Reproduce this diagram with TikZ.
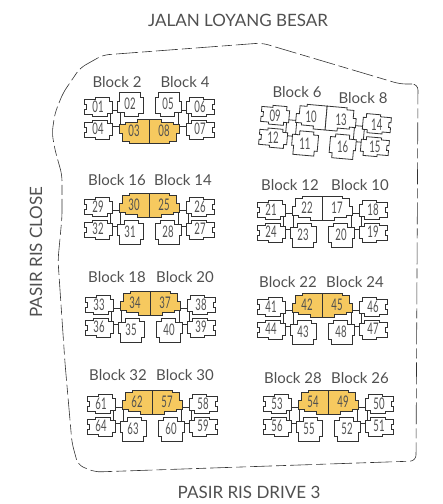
\documentclass[tikz,border=0pt]{standalone}
\usepackage{fontspec}
\setmainfont{Lato}
\newfontfamily\unitfont[FakeStretch=0.6]{Lato}
\definecolor{unityellow}{RGB}{246,201,95}
\definecolor{inkgray}{RGB}{50,50,50}
\definecolor{textgray}{RGB}{80,80,80}
\tikzset{
  unit/.style={draw=inkgray, line width=.8pt},
  boundary/.style={draw=inkgray, line width=.6pt, dash pattern=on 22pt off 4pt on 10pt off 4pt},
  unitno/.style={font=\unitfont\fontsize{16}{16}\selectfont, text=textgray, inner sep=0pt},
  blocklbl/.style={font=\fontsize{15}{15}\selectfont, text=textgray, inner sep=0pt},
  road/.style={font=\fontsize{17}{17}\selectfont, text=textgray, inner sep=0pt},
  pics/outerunit/.style={code={\path[unit,pic actions] (-14,-8) -- (-3,-8) -- (-3,-10) -- (11,-10) -- (11,-6) -- (14,-6) -- (14,6) -- (9,6) -- (9,9) -- (-6,9) -- (-6,7) -- (-14,7) -- (-14,2) -- (-12,2) -- (-12,-3) -- (-14,-3) -- cycle;}},
  pics/innerunit/.style={code={\path[unit,pic actions] (-12,-10) -- (-5,-10) -- (-5,-12) -- (15,-12) -- (15,12) -- (3,12) -- (3,9) -- (-9,9) -- (-9,7) -- (-15,7) -- (-15,-2) -- (-12,-2) -- cycle;}},
  pics/lowerunit/.style={code={\path[unit,pic actions] (-13,-8) -- (-6,-8) -- (-6,-12) -- (8,-12) -- (8,-9) -- (13,-9) -- (13,7) -- (10,7) -- (10,12) -- (-11,12) -- (-11,3) -- (-13,3) -- cycle;}},
}
\begin{document}
\begin{tikzpicture}[x=1pt,y=-1pt]
\useasboundingbox (0,0) rectangle (443,504);
% site boundary
\draw[boundary, rounded corners=6pt] (418,84) -- (400,84) -- (262,43) -- (103,55) -- (80,68) -- (63,93) -- (55,113) -- (52,133) -- (55,150) -- (62,175) -- (62,217) -- (58,260) -- (60,290) -- (65,363) -- (72,443) -- (78,465) -- (95,472) -- (416,461) -- cycle;
% roads
\node[road] (jalan) at (238,20) {JALAN LOYANG BESAR};
\node[road, rotate=90] (close) at (36,252) {PASIR RIS CLOSE};
\node[road] (drive) at (249,492) {PASIR RIS DRIVE 3};
% clusters of two blocks, eight units each
\foreach \cx/\cy/\r/\fy/\f/\names in {
  149/118/0/-1/unityellow/{"04","03","08","07","01","02","05","06"},
  325/131/-5/1/white/{"09","10","13","14","12","11","16","15"},
  149/218/0/1/unityellow/{"29","30","25","26","32","31","28","27"},
  322/221/0/1/white/{"21","22","17","18","24","23","20","19"},
  150/316/0/1/unityellow/{"33","34","37","38","36","35","40","39"},
  322/318/0/1/unityellow/{"41","42","45","46","44","43","48","47"},
  152/415/0/1/unityellow/{"61","62","57","58","64","63","60","59"},
  328/415/0/1/unityellow/{"53","54","49","50","56","55","52","51"}}
{
  \begin{scope}[shift={(\cx,\cy)}, rotate=\r, yscale=\fy]
  \draw[unit, fill=white] (-39,-8) rectangle (-29,8) (29,-8) rectangle (39,8);
  \foreach \dx/\dy/\p/\sx/\sy/\k [count=\i from 0] in {
    -51/-11/outerunit/1/1/white, -15/-13/innerunit/1/1/\f, 15/-13/innerunit/-1/1/\f, 51/-11/outerunit/-1/1/white,
    -51/11/outerunit/1/-1/white, -19/14/lowerunit/1/1/white, 19/14/lowerunit/-1/1/white, 51/11/outerunit/-1/-1/white}
  {
    \pgfmathsetmacro\n{{\names}[\i]}
    \pic[transform shape, fill=\k, xscale=\sx, yscale=\sy] at (\dx,\dy) {\p};
    \node[unitno] (u\n) at (\dx,\dy) {\n};
  }
  \end{scope}
}
% block names
\foreach \x/\y/\b in {117/82/2, 185/82/4, 297/92/6, 363/98/8, 117/180/16, 183/180/14, 290/185/12, 360/185/10,
  117/277/18, 185/277/20, 288/282/22, 355/282/24, 118/375/32, 185/375/30, 293/378/28, 360/378/26}
\node[blocklbl] (b\b) at (\x,\y) {Block \b};
\end{tikzpicture}
\end{document}
